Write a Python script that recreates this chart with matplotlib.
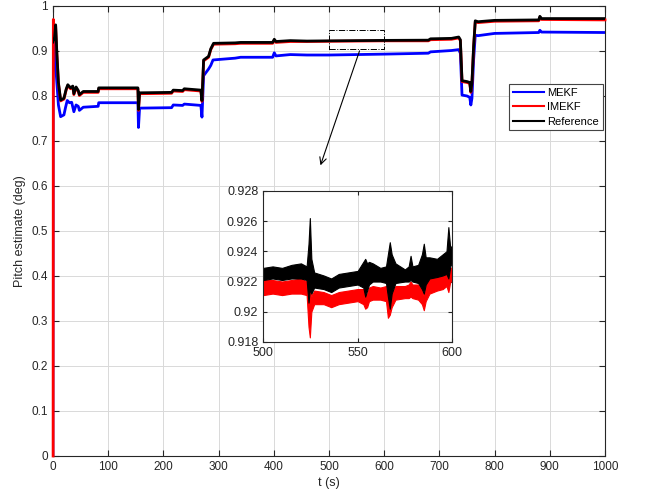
import matplotlib
matplotlib.use("Agg")
import matplotlib.pyplot as plt
from matplotlib.patches import Rectangle

plt.rcParams['font.family'] = ['Liberation Sans', 'DejaVu Sans']

# main curves (t in s, pitch)
ref_t = [0, 3, 5, 7, 10, 14, 20, 24, 27, 32, 36, 38, 42, 46, 48, 55, 82, 83, 154, 155, 157,
         215, 218, 235, 238, 268, 270, 273, 282, 286, 291, 330, 340, 398, 401, 404, 430, 460,
         500, 600, 680, 684, 722, 735, 738, 741, 750, 755, 757, 759, 762, 765, 770, 800, 880,
         882, 885, 1000]
ref_v = [0.92, 0.93, 0.958, 0.90, 0.83, 0.791, 0.795, 0.815, 0.825, 0.818, 0.822, 0.805, 0.82,
         0.812, 0.803, 0.81, 0.81, 0.818, 0.818, 0.77, 0.807, 0.808, 0.813, 0.812, 0.816, 0.813,
         0.79, 0.88, 0.888, 0.905, 0.917, 0.918, 0.919, 0.919, 0.926, 0.921, 0.923, 0.922,
         0.9225, 0.9235, 0.924, 0.927, 0.928, 0.931, 0.925, 0.834, 0.832, 0.83, 0.81, 0.83, 0.91,
         0.967, 0.965, 0.968, 0.969, 0.977, 0.972, 0.972]

imekf_t = [0.4, 0.8] + ref_t[1:]
imekf_v = [0.0, 0.97, 0.928, 0.955, 0.898, 0.828, 0.789, 0.793, 0.813, 0.823, 0.816, 0.82,
           0.803, 0.818, 0.81, 0.801, 0.808, 0.808, 0.816, 0.816, 0.768, 0.805, 0.806, 0.811,
           0.81, 0.814, 0.811, 0.788, 0.878, 0.886, 0.903, 0.915, 0.916, 0.917, 0.917, 0.924,
           0.919, 0.921, 0.921, 0.9215, 0.9225, 0.9225, 0.925, 0.926, 0.929, 0.923, 0.832, 0.83,
           0.828, 0.808, 0.828, 0.908, 0.965, 0.963, 0.966, 0.967, 0.975, 0.97, 0.969]

mekf_t = [0, 0.5, 3, 6, 10, 14, 20, 23, 26, 30, 34, 38, 42, 46, 48, 55, 82, 83, 154, 155, 157,
          215, 218, 235, 238, 268, 270, 273, 282, 286, 290, 330, 340, 398, 401, 404, 430, 460,
          500, 600, 680, 684, 722, 735, 738, 741, 750, 755, 757, 759, 762, 765, 770, 800, 880,
          882, 885, 1000]
mekf_v = [0.0, 0.92, 0.9, 0.85, 0.78, 0.754, 0.758, 0.775, 0.79, 0.785, 0.786, 0.765, 0.78,
          0.777, 0.768, 0.775, 0.777, 0.785, 0.785, 0.73, 0.773, 0.774, 0.78, 0.779, 0.782,
          0.779, 0.753, 0.845, 0.86, 0.868, 0.88, 0.884, 0.886, 0.886, 0.896, 0.889, 0.892,
          0.891, 0.891, 0.893, 0.895, 0.898, 0.901, 0.903, 0.895, 0.802, 0.8, 0.797, 0.78,
          0.795, 0.88, 0.935, 0.934, 0.939, 0.941, 0.946, 0.942, 0.941]

# zoomed window 500-600 s: noise envelopes
zoom_t = [500, 505, 510, 515, 520, 523, 524, 524.7, 525.5, 527, 532, 536, 540, 545, 550, 553,
          554, 555, 556, 558, 562, 565, 566, 567, 568, 570, 575, 577, 578, 579, 582, 584, 585,
          586, 588, 592, 595, 597, 598, 599, 600]
ref_hi = [0.9229, 0.923, 0.9229, 0.9231, 0.9232, 0.923, 0.9245, 0.9262, 0.9235, 0.9226, 0.9224,
          0.9222, 0.9225, 0.9226, 0.9227, 0.9233, 0.9235, 0.9232, 0.9233, 0.9232, 0.9229, 0.923,
          0.9238, 0.9246, 0.9238, 0.9232, 0.9228, 0.923, 0.9237, 0.923, 0.9231, 0.9238, 0.9245,
          0.9236, 0.9236, 0.9235, 0.9238, 0.924, 0.9256, 0.9242, 0.9244]
ref_lo = [0.9221, 0.9222, 0.9221, 0.9222, 0.9222, 0.9221, 0.9206, 0.9215, 0.9212, 0.9216, 0.9215,
          0.9213, 0.9216, 0.9217, 0.9218, 0.9216, 0.921, 0.9214, 0.9218, 0.922, 0.922, 0.9219,
          0.921, 0.9202, 0.9212, 0.9219, 0.922, 0.922, 0.9221, 0.922, 0.9219, 0.9215, 0.9212,
          0.9218, 0.9222, 0.9223, 0.9224, 0.9225, 0.9222, 0.923, 0.9233]
ime_hi = [0.9221, 0.9221, 0.922, 0.9221, 0.9222, 0.922, 0.9225, 0.925, 0.921, 0.9214, 0.9213,
          0.9211, 0.9213, 0.9214, 0.9215, 0.9215, 0.921, 0.9212, 0.9216, 0.9217, 0.9216, 0.9217,
          0.921, 0.9215, 0.9212, 0.9217, 0.9217, 0.9218, 0.922, 0.9218, 0.9218, 0.9215, 0.921,
          0.9218, 0.9222, 0.9224, 0.9225, 0.9226, 0.9224, 0.9228, 0.923]
ime_lo = [0.9211, 0.9212, 0.9211, 0.9212, 0.9212, 0.9211, 0.919, 0.9183, 0.92, 0.9205, 0.9205,
          0.9203, 0.9205, 0.9206, 0.9207, 0.9205, 0.9202, 0.9203, 0.9207, 0.9208, 0.9208, 0.9207,
          0.9196, 0.9198, 0.9203, 0.9208, 0.9209, 0.9209, 0.921, 0.9209, 0.9208, 0.9205, 0.9201,
          0.9207, 0.9212, 0.9214, 0.9215, 0.9217, 0.9213, 0.922, 0.922]

txt = '#262626'
grid_c = '#d9d9d9'

fig = plt.figure(figsize=(6.45, 4.97), dpi=100)
ax = fig.add_axes([0.082, 0.0825, 0.856, 0.9055])

ax.plot(mekf_t, mekf_v, color='blue', lw=2.0, label='MEKF')
ax.plot(imekf_t, imekf_v, color='red', lw=2.0, label='IMEKF', clip_on=False, zorder=3)
ax.plot(ref_t, ref_v, color='black', lw=2.0, label='Reference', zorder=4)

ax.set_xlim(0, 1000)
ax.set_ylim(0, 1)
ax.set_xticks(range(0, 1001, 100))
ax.set_yticks([i / 10 for i in range(11)])
ax.set_yticklabels(['0', '0.1', '0.2', '0.3', '0.4', '0.5', '0.6', '0.7', '0.8', '0.9', '1'])
ax.grid(True, color=grid_c, lw=0.7)
ax.set_axisbelow(True)
ax.tick_params(direction='in', top=True, right=True, length=4, labelsize=8.5, colors=txt)
for s in ax.spines.values():
    s.set_color(txt)
    s.set_linewidth(0.8)
ax.set_xlabel('t (s)', fontsize=9, color=txt, labelpad=3)
ax.set_ylabel('Pitch estimate (deg)', fontsize=9, color=txt, labelpad=4)

leg = ax.legend(loc='upper right', bbox_to_anchor=(0.996, 0.827), fontsize=8, fancybox=False,
                edgecolor='#444444', framealpha=1, handlelength=2.8, borderpad=0.35,
                labelspacing=0.4, handletextpad=0.25, borderaxespad=0)
leg.get_frame().set_linewidth(0.8)
for h in leg.get_lines():
    h.set_linewidth(1.5)

ax.add_patch(Rectangle((500, 0.905), 100, 0.042, fill=False, ls='-.', lw=0.7, color='black',
                       zorder=5))
ax.annotate('', xy=(483, 0.64), xytext=(557, 0.906),
            arrowprops=dict(arrowstyle='->', color='black', lw=0.8, mutation_scale=12))

# inset
ins = fig.add_axes([0.408, 0.312, 0.293, 0.304])
ins.fill_between(zoom_t, ime_lo, ime_hi, color='red', lw=0.8, edgecolor='red')
ins.fill_between(zoom_t, ref_lo, ref_hi, color='black', lw=0.8, edgecolor='black')
ins.set_xlim(500, 600)
ins.set_ylim(0.918, 0.928)
ins.set_xticks([500, 550, 600])
ins.set_yticks([0.918, 0.92, 0.922, 0.924, 0.926, 0.928])
ins.set_yticklabels(['0.918', '0.92', '0.922', '0.924', '0.926', '0.928'])
ins.grid(True, color=grid_c, lw=0.7)
ins.set_axisbelow(True)
ins.tick_params(direction='in', top=True, right=True, length=3, labelsize=9, colors=txt)
for s in ins.spines.values():
    s.set_color(txt)
    s.set_linewidth(0.8)

fig.savefig('out.png', dpi=100)
